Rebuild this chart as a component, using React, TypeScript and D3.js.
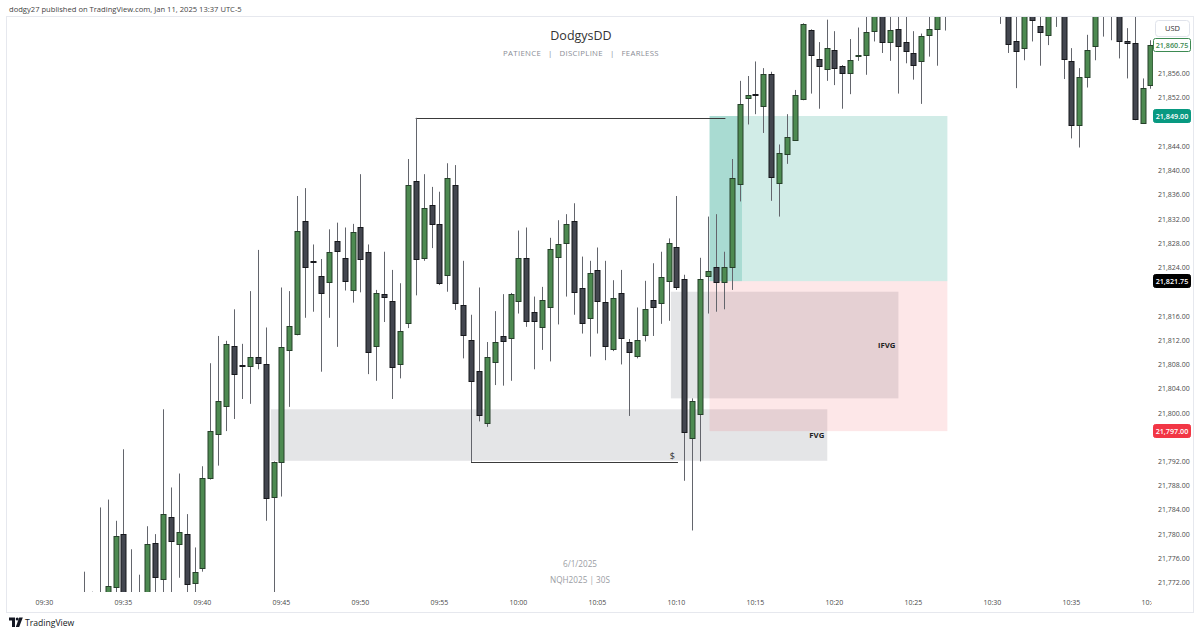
import React from "react";
import * as d3 from "d3";

// ---- data (30s bars of NQH2025, 09:32:30 .. 10:40:00) ----
const FIRST_BAR = "09:32:30";
const BAR_SECONDS = 30;

const opens = [
  21769.5, 21768, 21768.5, 21768, 21771.3, 21780.0, 21768, 21767, 21768.5, 21778.5,
  21772.6, 21782.9, 21778.3, 21780.0, 21772.0, 21774.4, 21789.2, 21796.5, 21801.2, 21811.1,
  21807.9, 21807.8, 21809.2, 21808.1, 21786.2, 21791.9, 21810.4, 21813.1, 21831.6, 21825.1,
  21822.6, 21821.6, 21828.3, 21825.6, 21820.3, 21830.7, 21826.6, 21811.1, 21819.6, 21818.5,
  21808.1, 21814.8, 21838.2, 21825.5, 21834.3, 21831.1, 21822.8, 21837.6, 21817.8, 21812.0,
  21806.9, 21798.4, 21808.4, 21812.7, 21812.4, 21818.4, 21825.6, 21816.6, 21814.1, 21817.5,
  21825.8, 21828.1, 21831.6, 21820.6, 21815.6, 21823.6, 21818.3, 21810.5, 21819.8, 21811.7,
  21809.4, 21812.8, 21818.6, 21818.1, 21821.8, 21827.3, 21822.1, 21795.9, 21799.9, 21822.6,
  21824.0, 21821.6, 21824.0, 21837.8, 21851.9, 21852.6, 21850.7, 21855.9, 21838.0, 21842.7,
  21845.0, 21851.8, 21863.2, 21858.4, 21856.7, 21859.9, 21857.2, 21856.1, 21858.9, 21859.1,
  21863.0, 21867.5, 21861.2, 21863.4, 21861.2, 21859.4, 21858.0, 21862.4, 21863.4, 21867.0,
  21869.5, 21872.0, 21871.0, 21873.5, 21872.5, 21871.0, 21870.0, 21868.0, 21861.4, 21860.2,
  21866.0, 21863.9, 21862.4, 21869.0, 21867.0, 21858.0, 21847.5, 21855.5, 21860.6, 21867.0,
  21868.5, 21867.0, 21861.4, 21861.0, 21847.9, 21854.1,
];
const highs = [
  21773.8, 21770.5, 21784.4, 21785.7, 21782.2, 21794.0, 21777.5, 21773.3, 21781.3, 21780.0,
  21800.6, 21787.7, 21790.0, 21783.3, 21777.8, 21791.2, 21808.2, 21812.7, 21811.9, 21817.1,
  21811.4, 21820.1, 21826.9, 21814.1, 21792.0, 21820.7, 21820.1, 21835.8, 21837.1, 21827.8,
  21825.4, 21830.3, 21831.4, 21830.6, 21831.2, 21839.4, 21827.8, 21820.3, 21826.6, 21823.6,
  21821.4, 21841.9, 21848.7, 21839.4, 21837.3, 21836.5, 21841.2, 21840.9, 21825.1, 21816.2,
  21820.7, 21811.7, 21816.8, 21819.6, 21819.8, 21830.1, 21830.6, 21819.2, 21820.8, 21828.9,
  21831.8, 21832.8, 21834.6, 21825.8, 21825.1, 21827.3, 21825.1, 21821.9, 21823.6, 21812.2,
  21817.4, 21821.8, 21824.7, 21826.6, 21828.8, 21835.8, 21822.8, 21802.4, 21825.6, 21832.4,
  21832.8, 21826.6, 21841.9, 21854.8, 21855.6, 21858.0, 21856.9, 21856.3, 21844.3, 21849.3,
  21853.3, 21864.3, 21863.3, 21861.2, 21864.9, 21863.0, 21857.4, 21861.7, 21863.6, 21866.5,
  21869.0, 21869.0, 21867.0, 21867.0, 21866.0, 21863.0, 21862.6, 21866.0, 21869.0, 21871.0,
  21874.0, 21874.5, 21876.0, 21875.5, 21874.0, 21872.5, 21872.0, 21870.0, 21867.0, 21869.0,
  21868.0, 21866.0, 21869.0, 21870.0, 21869.0, 21860.2, 21856.9, 21862.4, 21869.0, 21870.0,
  21870.0, 21869.0, 21863.5, 21866.0, 21855.2, 21861.5,
];
const lows = [
  21767, 21766, 21765, 21766, 21768, 21766, 21765, 21765, 21767, 21769.5,
  21770.3, 21769.5, 21772.8, 21769.5, 21769.8, 21773.8, 21789.0, 21791.3, 21797.0, 21799.0,
  21802.3, 21801.5, 21807.2, 21782.2, 21768.0, 21786.2, 21801.0, 21812.8, 21815.7, 21816.7,
  21806.8, 21815.7, 21810.9, 21820.2, 21818.2, 21819.9, 21806.4, 21805.3, 21815.0, 21802.3,
  21805.7, 21814.0, 21819.4, 21825.1, 21827.2, 21821.1, 21820.0, 21817.0, 21809.0, 21791.9,
  21798.6, 21797.7, 21804.6, 21804.5, 21805.3, 21816.4, 21814.2, 21807.2, 21810.4, 21808.5,
  21814.6, 21819.2, 21816.2, 21813.1, 21809.3, 21813.1, 21808.7, 21810.2, 21808.0, 21799.5,
  21809.0, 21811.8, 21812.7, 21814.7, 21815.2, 21820.3, 21788.8, 21780.6, 21792.0, 21816.4,
  21816.7, 21817.1, 21820.3, 21834.9, 21847.6, 21849.3, 21846.2, 21835.0, 21832.4, 21841.1,
  21845.0, 21851.6, 21852.7, 21850.2, 21854.8, 21854.1, 21850.2, 21852.6, 21858.1, 21855.8,
  21861.3, 21859.4, 21858.1, 21852.7, 21857.7, 21855.0, 21851.0, 21858.8, 21857.3, 21863.1,
  21867.5, 21868.5, 21869.0, 21870.0, 21868.5, 21867.0, 21864.2, 21859.4, 21853.6, 21858.2,
  21861.3, 21857.3, 21860.7, 21863.7, 21855.1, 21845.3, 21843.8, 21853.7, 21858.2, 21862.1,
  21861.5, 21858.5, 21855.2, 21848.3, 21847.9, 21853.5,
];
const closes = [
  21768.5, 21769, 21767.5, 21771.5, 21779.7, 21768.5, 21767, 21768.5, 21778.3, 21773.0,
  21783.4, 21778.8, 21780.4, 21771.8, 21773.7, 21789.2, 21797.0, 21802.0, 21811.4, 21806.4,
  21807.8, 21809.2, 21808.2, 21786.0, 21791.9, 21810.8, 21814.3, 21830.0, 21824.1, 21825.0,
  21819.8, 21826.6, 21826.8, 21821.8, 21829.8, 21825.4, 21810.1, 21819.8, 21819.1, 21807.6,
  21813.6, 21837.6, 21825.4, 21833.8, 21831.1, 21821.5, 21838.7, 21818.1, 21812.9, 21805.2,
  21799.7, 21809.2, 21811.7, 21811.9, 21819.6, 21825.6, 21815.1, 21815.1, 21818.6, 21827.1,
  21827.8, 21831.1, 21820.0, 21814.9, 21823.1, 21818.4, 21811.1, 21818.9, 21812.4, 21810.1,
  21812.0, 21817.1, 21817.4, 21822.4, 21828.1, 21820.8, 21796.9, 21802.0, 21822.1, 21823.5,
  21821.6, 21824.0, 21838.7, 21851.0, 21852.5, 21852.4, 21856.0, 21839.0, 21842.9, 21845.5,
  21852.5, 21864.2, 21859.1, 21857.2, 21860.2, 21856.9, 21856.1, 21858.2, 21859.1, 21862.9,
  21867.5, 21861.2, 21863.2, 21860.6, 21859.7, 21857.4, 21862.2, 21863.4, 21867.5, 21869.0,
  21872.0, 21871.0, 21873.5, 21872.5, 21871.0, 21870.0, 21868.0, 21860.9, 21859.7, 21867.0,
  21864.8, 21862.9, 21867.0, 21867.0, 21858.4, 21847.5, 21855.5, 21859.9, 21867.0, 21868.5,
  21867.0, 21861.4, 21861.1, 21848.5, 21853.7, 21860.75,
];

const timeTicks = ["09:30", "09:35", "09:40", "09:45", "09:50", "09:55", "10:00", "10:05", "10:10", "10:15", "10:20", "10:25", "10:30", "10:35", "10:40"];
const priceTicks = [21772, 21776, 21780, 21784, 21788, 21792, 21796, 21800, 21804, 21808, 21812, 21816, 21820, 21824, 21828, 21832, 21836, 21840, 21844, 21848, 21852, 21856];
const subtitleWords = ["PATIENCE", "DISCIPLINE", "FEARLESS"];

// drawings
const position = { start: "10:12:06", hit: "10:14:09", end: "10:27:09", entry: 21821.75, target: 21849.0, stop: 21797.0 };
const zones = [
  { label: "FVG", start: "09:44:20", end: "10:19:33", top: 21800.6, bottom: 21792.1 },
  { label: "iFVG", start: "10:09:39", end: "10:24:03", top: 21820.0, bottom: 21802.4 },
];
const levelLines = [
  { start: "09:53:30", end: "10:13:06", price: 21848.75, text: "" },
  { start: "09:57:00", end: "10:10:06", price: 21791.9, text: "$" },
];
const lastPrice = 21860.75;

const parse = d3.timeParse("%H:%M:%S");
const FONT = "'Open Sans', 'Noto Sans', sans-serif";

export default function App() {
  const W = 1200, H = 634;
  const plot = { left: 7, right: 1153, top: 17, bottom: 592 };
  const x = d3.scaleTime().domain([parse("09:30:00")!, parse("10:40:00")!]).range([44.4, 1150.4]);
  const y = d3.scaleLinear().domain([21849, 21797]).range([116, 431.1]);
  const t0 = parse(FIRST_BAR)!;
  const bars = opens.map((o, k) => ({
    t: new Date(t0.getTime() + k * BAR_SECONDS * 1000),
    o, h: highs[k], l: lows[k], c: closes[k],
  }));
  const px = (s: string) => x(parse(s)!);
  const fmt = d3.format(",.2f");
  const bw = 5;
  const boxPrices = [lastPrice, position.target, position.entry, position.stop];
  const visibleTicks = priceTicks.filter((p) => boxPrices.every((b) => Math.abs(y(p) - y(b)) > 12));

  const priceBox = (p: number, fill: string, stroke: string, color: string) => (
    <g key={"pb" + p}>
      <rect x={1153.5} y={Math.round(y(p)) - 6.5} width={37} height={13} rx={2} fill={fill} stroke={stroke} />
      <text x={1172} y={Math.round(y(p)) + 2.6} textAnchor="middle" fontSize={7.2} fontWeight={600} fill={color} fontFamily={FONT}>{fmt(p)}</text>
    </g>
  );

  return (
    <svg width={W} height={H} style={{ position: "absolute", left: 0, top: 0, background: "#fff" }}>
      <defs>
        <clipPath id="plotClip">
          <rect x={plot.left} y={plot.top} width={plot.right - plot.left} height={plot.bottom - plot.top} />
        </clipPath>
        <clipPath id="timeClip">
          <rect x={plot.left} y={plot.bottom} width={plot.right - plot.left - 1} height={20} />
        </clipPath>
      </defs>
      <rect x={0} y={0} width={W} height={H} fill="#fff" />
      <text x={9} y={12} fontSize={7.6} fill="#444" fontFamily={FONT}>dodgy27 published on TradingView.com, Jan 11, 2025 13:37 UTC-5</text>
      <rect x={6.5} y={16.5} width={1187} height={596} fill="none" stroke="#e6e8ee" />

      <g clipPath="url(#plotClip)">
        {/* zones */}
        {zones.map((z) => (
          <rect key={z.label} x={px(z.start)} y={y(z.top)} width={px(z.end) - px(z.start)} height={y(z.bottom) - y(z.top)} fill="rgba(120,123,134,0.2)" />
        ))}
        {/* position */}
        <rect x={px(position.start)} y={y(position.target)} width={px(position.end) - px(position.start)} height={y(position.entry) - y(position.target)} fill="rgba(8,153,129,0.19)" />
        <rect x={px(position.start)} y={y(position.entry)} width={px(position.end) - px(position.start)} height={y(position.stop) - y(position.entry)} fill="rgba(242,54,69,0.12)" />
        <rect x={px(position.start)} y={y(position.target)} width={px(position.hit) - px(position.start)} height={y(position.entry) - y(position.target)} fill="rgba(8,153,129,0.2)" />

        {/* level lines */}
        {levelLines.map((ln, k) => {
          const yy = Math.round(y(ln.price)) + 0.5;
          return (
            <g key={"ln" + k}>
              <line x1={px(ln.start)} x2={px(ln.end)} y1={yy} y2={yy} stroke="#3a3a3a" strokeWidth={1} />
              {ln.text && (
                <text x={px(ln.end) - 3} y={yy - 4} textAnchor="end" fontSize={9} fill="#333" fontFamily={FONT}>{ln.text}</text>
              )}
            </g>
          );
        })}

        {/* candles */}
        {bars.map((b, k) => {
          const cx = Math.round(x(b.t)) + 0.5;
          const up = b.c >= b.o;
          const top = Math.round(y(Math.max(b.o, b.c))) + 0.5;
          const bot = Math.max(top + 1, Math.round(y(Math.min(b.o, b.c))) + 0.5);
          return (
            <g key={k}>
              <line x1={cx} x2={cx} y1={y(b.h)} y2={y(b.l)} stroke="#63656c" strokeWidth={1} />
              <rect x={cx - bw / 2} y={top} width={bw} height={bot - top} fill={up ? "#4d8a51" : "#43464f"} stroke={up ? "#26402a" : "#17181c"} strokeWidth={1} />
            </g>
          );
        })}

        {/* zone labels */}
        {zones.map((z) => (
          <text key={"zl" + z.label} x={px(z.end) - 3} y={(y(z.top) + y(z.bottom)) / 2 + 2.5} textAnchor="end" fontSize={7.8} fontWeight={700} fill="#222" fontFamily={FONT}>{z.label}</text>
        ))}
      </g>

      {/* title & watermark */}
      <text x={581} y={40} textAnchor="middle" fontSize={12.5} fill="#333" fontFamily={FONT}>DodgysDD</text>
      <text x={581} y={56} textAnchor="middle" fontSize={7.8} fill="#8a8d96" fontFamily={FONT} letterSpacing={0.3} style={{ whiteSpace: "pre" }}>
        {subtitleWords.join("   |   ")}
      </text>
      <text x={580} y={567} textAnchor="middle" fontSize={8.2} fill="#9a9ca3" fontFamily={FONT}>6/1/2025</text>
      <text x={580} y={583} textAnchor="middle" fontSize={8.2} fill="#9a9ca3" fontFamily={FONT} style={{ whiteSpace: "pre" }}>NQH2025 | 30S</text>

      {/* time axis */}
      <g clipPath="url(#timeClip)">
        {timeTicks.map((t) => (
          <text key={t} x={px(t + ":00")} y={605} textAnchor="middle" fontSize={7} fill="#4a4a4a" fontFamily={FONT}>{t}</text>
        ))}
      </g>

      {/* price axis */}
      <rect x={1155.5} y={20.5} width={34} height={16} rx={3} fill="#fff" stroke="#e0e3eb" />
      <text x={1172.5} y={31.2} textAnchor="middle" fontSize={7.5} fill="#333" fontFamily={FONT}>USD</text>
      {visibleTicks.map((p) => (
        <text key={p} x={1158} y={y(p) + 2.6} fontSize={7} fill="#4a4a4a" fontFamily={FONT}>{fmt(p)}</text>
      ))}
      {priceBox(lastPrice, "#fff", "#3d8a52", "#3d8a52")}
      {priceBox(position.target, "#089981", "#089981", "#fff")}
      {priceBox(position.entry, "#000", "#000", "#fff")}
      {priceBox(position.stop, "#f23645", "#f23645", "#fff")}

      {/* footer logo */}
      <g fill="#131722">
        <path d="M9 617.5 h6 v9.5 h-3 v-6.5 h-3 z" />
        <circle cx={17.2} cy={619} r={1.5} />
        <path d="M19.2 617.5 h3.6 l-3.6 9.5 h-3.4 z" />
      </g>
      <text x={25} y={626} fontSize={8.6} fill="#131722" fontFamily={FONT}>TradingView</text>
    </svg>
  );
}
